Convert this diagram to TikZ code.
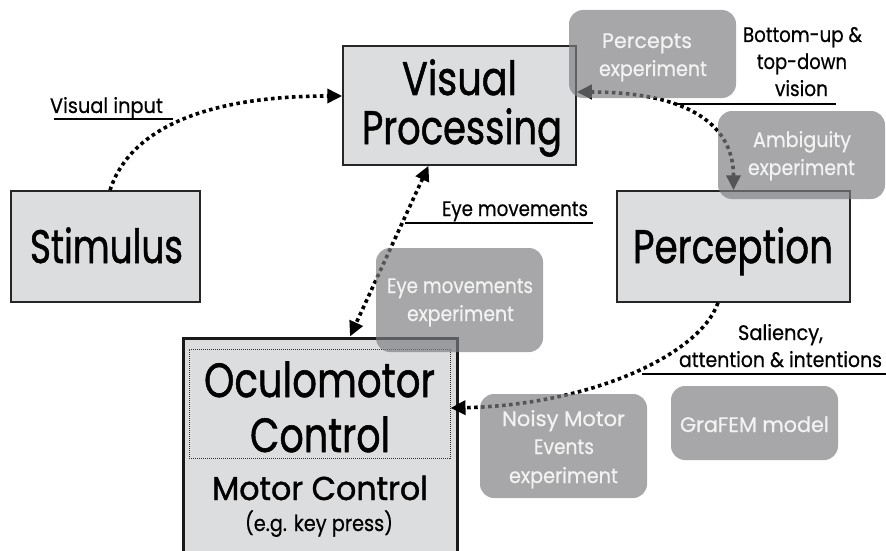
\documentclass[tikz,border=0pt]{standalone}
\usepackage{fontspec}
\setmainfont{Poppins}[FakeBold=1.2]
\newfontfamily\lightfont{Poppins}[FakeBold=0.6]
\usetikzlibrary{arrows.meta}
\newcommand\fw[2]{\resizebox{#1pt}{\height}{#2}}
\definecolor{boxfill}{HTML}{DCDDDF}
\definecolor{expfill}{HTML}{7D7E81}
\begin{document}
\begin{tikzpicture}[x=1pt,y=-1pt,
  mainbox/.style={draw=black!85, line width=1.5pt, fill=boxfill, inner sep=0pt},
  expbox/.style={fill=expfill, fill opacity=0.68, rounded corners=14pt, inner sep=0pt},
  big/.style={inner sep=0pt, anchor=base, font=\fontsize{47}{49}\selectfont},
  mid/.style={inner sep=0pt, anchor=base, font=\fontsize{33}{36}\selectfont},
  small/.style={inner sep=0pt, anchor=base, font=\lightfont\fontsize{22}{24}\selectfont},
  lbl/.style={inner sep=0pt, anchor=base, font=\lightfont\fontsize{21}{24}\selectfont},
  wlbl/.style={lbl, text=white!95!black},
  uline/.style={line width=1.3pt},
  >={Triangle[length=15pt,width=14pt]},
  dotarrow/.style={line width=3.6pt, dash pattern=on 3.6pt off 3.4pt},
]
\useasboundingbox (0,0) rectangle (886,551);
\clip (0,0) rectangle (886,551);

% main boxes
\node[mainbox, minimum width=233pt, minimum height=119pt] (vp) at (459.5,105.5) {};
\node[mainbox, minimum width=189pt, minimum height=111pt] (stim) at (105.5,246.5) {};
\node[mainbox, minimum width=233pt, minimum height=111pt] (perc) at (733.5,246.5) {};
\node[draw=black!90, line width=3pt, fill=boxfill, inner sep=0pt, minimum width=274pt, minimum height=232pt] (oc) at (320,454) {};
\node[draw=black!80, line width=1pt, dash pattern=on 1pt off 1pt, inner sep=0pt, minimum width=261pt, minimum height=109pt] (ocin) at (319.5,403.5) {};

% box texts
\node[big] (tvis) at (459.5,95) {\fw{115}{Visual}};
\node[big] (tproc) at (462,144) {\fw{200}{Processing}};
\node[big] (tstim) at (106.5,263) {\fw{153}{Stimulus}};
\node[big] (tperc) at (733,263) {\fw{200}{Perception}};
\node[big, font=\fontsize{48}{50}\selectfont] (tocu) at (319.5,397) {\fw{231}{Oculomotor}};
\node[big, font=\fontsize{48}{50}\selectfont] (tctl) at (320,452) {\fw{140}{Control}};
\node[mid] (tmot) at (320,500) {\fw{216}{Motor Control}};
\node[small] (tkey) at (319,531) {\fw{148}{(e.g. key press)}};

% arrows
\draw[dotarrow, ->] ([xshift=4.5pt]stim.north) .. controls (132,122) and (220,96) .. ([yshift=9.5pt]vp.west);
\draw[dotarrow, <->] ([xshift=-31pt]vp.south) -- ([xshift=30pt]oc.north);
\draw[dotarrow, <->] ([yshift=13.5pt]vp.east) .. controls (680,92) and (733.5,120) .. (perc.north);
\draw[dotarrow, ->] ([xshift=-15.5pt]perc.south) .. controls (700,355) and (590,405) .. ([yshift=-4.5pt]ocin.east);

% labels with underlines
\node[lbl] (lvi) at (106.5,113) {\fw{113}{Visual input}};
\draw[uline] (54,119) -- (173,119);
\node[lbl] (lem) at (515,216) {\fw{146}{Eye movements}};
\draw[uline] (405,223) -- (593,223);
\node[lbl] (lbu1) at (802.5,42) {\fw{119}{Bottom-up \&}};
\node[lbl] (lbu2) at (802,69) {\fw{90}{top-down}};
\node[lbl] (lbu3) at (801.5,96) {\fw{53}{vision}};
\draw[uline] (673,104) -- (836,104);
\node[lbl] (lsa1) at (780.5,340) {\fw{85}{Saliency,}};
\node[lbl] (lsa2) at (780.5,367) {\fw{203}{attention \& intentions}};
\draw[uline] (642,374) -- (886,374);

% experiment boxes
\node[expbox, minimum width=167pt, minimum height=88pt] (pe) at (652.5,54) {};
\node[expbox, minimum width=167pt, minimum height=88pt] (am) at (801.5,155) {};
\node[expbox, minimum width=167pt, minimum height=104pt] (em) at (459.5,300) {};
\node[expbox, minimum width=167pt, minimum height=104pt] (nm) at (563.5,446) {};
\node[expbox, minimum width=167pt, minimum height=74pt] (gf) at (754.5,423) {};

\node[wlbl] (pe1) at (647,48) {\fw{90}{Percepts}};
\node[wlbl] (pe2) at (653,76) {\fw{108}{experiment}};
\node[wlbl] (am1) at (802,147) {\fw{98}{Ambiguity}};
\node[wlbl] (am2) at (801.5,175) {\fw{107}{experiment}};
\node[wlbl] (em1) at (460,293) {\fw{146}{Eye movements}};
\node[wlbl] (em2) at (460.5,321) {\fw{107}{experiment}};
\node[wlbl] (nm1) at (563.5,426) {\fw{123}{Noisy Motor}};
\node[wlbl] (nm2) at (564,454) {\fw{60}{Events}};
\node[wlbl] (nm3) at (563.5,483) {\fw{109}{experiment}};
\node[wlbl] (gf1) at (754.5,432) {\fw{149}{GraFEM model}};
\end{tikzpicture}
\end{document}
